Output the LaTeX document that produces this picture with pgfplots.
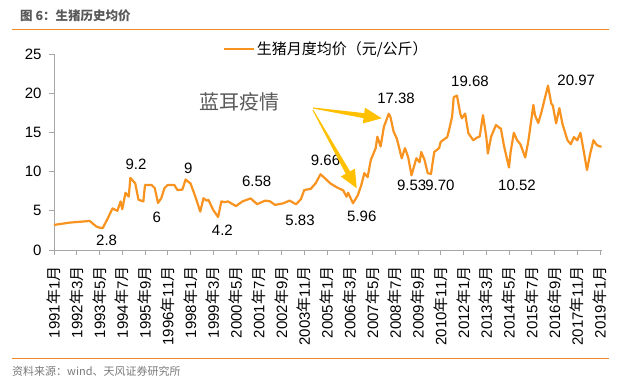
\documentclass[border=0pt]{standalone}
\usepackage{pgfplots}
\pgfplotsset{compat=1.18}
\usepackage{fontspec}
\setmainfont{Liberation Sans}
\newfontfamily\cjk{Noto Sans CJK SC}
\usetikzlibrary{arrows.meta}
\definecolor{pork}{HTML}{F7931E}
\definecolor{rule}{HTML}{F08A24}
\definecolor{arr}{HTML}{FFC000}
\definecolor{axgray}{HTML}{A6A6A6}
\definecolor{txtgray}{HTML}{595959}
\newcommand\N{{\cjk 年}}
\newcommand\Y{{\cjk 月}}
\begin{document}
\begin{tikzpicture}
\useasboundingbox (0,0) rectangle (640bp,386bp);
\node[anchor=west, inner sep=0, font=\fontsize{12.5bp}{14bp}\selectfont\cjk\bfseries, text=txtgray] at (20bp,370bp) {图 6：生猪历史均价};
\draw[rule, line width=1bp] (12bp,356.7bp) -- (609bp,356.7bp);
\draw[rule, line width=1bp] (12bp,27.7bp) -- (609bp,27.7bp);
\node[anchor=west, inner sep=0, font=\fontsize{11bp}{13bp}\selectfont\cjk, text=txtgray!80] at (12bp,15bp) {资料来源：wind、天风证券研究所};
\begin{axis}[
  at={(54bp,136bp)}, anchor=south west,
  scale only axis, width=547.6bp, height=196bp,
  xmin=0, xmax=337, ymin=0, ymax=25,
  clip=false,
  axis x line*=bottom, axis y line*=left,
  axis line style={axgray, line width=0.8bp},
  tick style={axgray, line width=0.8bp},
  tick align=outside, major tick length=5bp,
  ytick={0,5,10,15,20,25},
  xtick={0,14,...,336},
  xticklabels={1991\N1\Y,1992\N3\Y,1993\N5\Y,1994\N7\Y,1995\N9\Y,1996\N11\Y,1998\N1\Y,1999\N3\Y,2000\N5\Y,2001\N7\Y,2002\N9\Y,2003\N11\Y,2005\N1\Y,2006\N3\Y,2007\N5\Y,2008\N7\Y,2009\N9\Y,2010\N11\Y,2012\N1\Y,2013\N3\Y,2014\N5\Y,2015\N7\Y,2016\N9\Y,2017\N11\Y,2019\N1\Y},
  xticklabel shift=8bp,
  yticklabel shift=4bp,
  xticklabel style={rotate=90, anchor=east, font=\fontsize{15bp}{17bp}\selectfont},
  yticklabel style={font=\fontsize{15bp}{17bp}\selectfont},
  /pgf/number format/assume math mode=true,
  legend style={at={(axis description cs:0.307,1.026)}, anchor=west, draw=none, fill=none, inner sep=0pt,
    font=\fontsize{15bp}{17bp}\selectfont\cjk},
  legend image code/.code={\draw[pork, line width=2.5bp] (0bp,0bp) -- (30bp,0bp);},
]
\addplot[pork, line width=2.2bp, line join=round] coordinates {
(0,3.2) (10,3.5) (22,3.7) (26,3.0) (28,2.85) (30,2.8) (33,4.0) (36,5.3) (39,5.0) (41,6.2) (42,5.2) (44,7.3) (46,6.8) (47,9.2)
(50,8.5) (52,6.4) (55,6.2) (56,8.3) (60,8.3) (62,7.9) (64,6.0) (66,6.6) (68,7.9) (70,8.3) (74,8.3) (76,7.65) (79,7.7)
(81,9.0) (82,8.8) (84,8.5) (87,6.8) (90,4.9) (92,6.6) (94,6.3) (95,6.4) (98,5.1) (101,4.2) (103,6.2) (105,6.1) (107,6.2)
(112,5.6) (116,6.2) (121,6.58) (125,5.85) (130,6.3) (133,6.2) (136,5.75) (141,5.95) (145,6.3) (149,5.83) (152,6.5) (154,7.65)
(158,7.8) (161,8.5) (164,9.66) (167,9.1) (170,8.5) (174,8.0) (178,7.6) (180,6.8) (181,7.3) (184,5.96) (187,7.0) (189,8.2)
(191,9.8) (193,9.3) (195,11.5) (198,13.0) (199,14.45) (201,13.2) (203,15.7) (206,17.38) (207,17.0) (209,15.1) (211,14.2)
(214,11.7) (216,13.0) (218,11.8) (220,9.53) (223,11.7) (225,11.2) (226,12.5) (228,11.5) (230,9.8) (232,9.7) (234,12.5)
(237,13.0) (238,13.8) (242,14.4) (243,15.2) (245,17.0) (246,19.5) (248,19.68) (250,17.4) (251,16.8) (253,17.4) (255,14.9)
(258,14.0) (260,14.3) (262,14.5) (264,17.2) (266,14.5) (267,12.3) (269,14.45) (272,15.95) (274,15.6) (275,15.5) (277,13.2)
(280,10.52) (281,12.5) (283,14.95) (285,14.0) (287,13.5) (290,11.8) (292,14.0) (295,18.5) (296,17.2) (298,16.2) (300,17.6)
(302,19.3) (304,20.97) (306,18.7) (307,18.4) (309,16.15) (311,18.1) (313,16.0) (316,14.0) (318,13.5) (320,14.4) (322,14.0)
(324,14.95) (326,12.6) (328,10.2) (330,12.3) (332,14.0) (334,13.4) (336,13.2) (337,13.2)
};
\addlegendentry{生猪月度均价（元/公斤）}
\begin{scope}[every node/.style={font=\fontsize{15bp}{17bp}\selectfont, inner sep=0}]
\node at (axis cs:32.4,1.28) {2.8};
\node at (axis cs:50.5,10.93) {9.2};
\node at (axis cs:63.2,4.17) {6};
\node at (axis cs:82.6,10.42) {9};
\node at (axis cs:103.6,2.55) {4.2};
\node at (axis cs:124.7,8.71) {6.58};
\node at (axis cs:151.4,3.83) {5.83};
\node at (axis cs:167.1,11.48) {9.66};
\node at (axis cs:189.4,4.25) {5.96};
\node at (axis cs:210.5,19.35) {17.38};
\node at (axis cs:220.1,8.29) {9.53};
\node at (axis cs:237.5,8.29) {9.70};
\node at (axis cs:256,21.47) {19.68};
\node at (axis cs:284.9,8.29) {10.52};
\node at (axis cs:321.4,21.68) {20.97};
\end{scope}
\node[font=\fontsize{20bp}{22bp}\selectfont\cjk, text=txtgray, inner sep=0] at (axis cs:114,18.95) {蓝耳疫情};
\fill[arr] (axis cs:159.3,18.05) -- (axis cs:190.5,16.82) -- (axis cs:190.0,16.14) -- (axis cs:201.7,16.80) -- (axis cs:191.4,18.15) -- (axis cs:190.9,17.46) -- (axis cs:159.4,18.18) -- cycle;
\fill[arr] (axis cs:159.1,17.83) -- (axis cs:179.5,9.72) -- (axis cs:176.5,9.38) -- (axis cs:186.3,7.87) -- (axis cs:185.2,10.37) -- (axis cs:182.2,10.03) -- (axis cs:159.6,17.88) -- cycle;
\end{axis}
\end{tikzpicture}
\end{document}
